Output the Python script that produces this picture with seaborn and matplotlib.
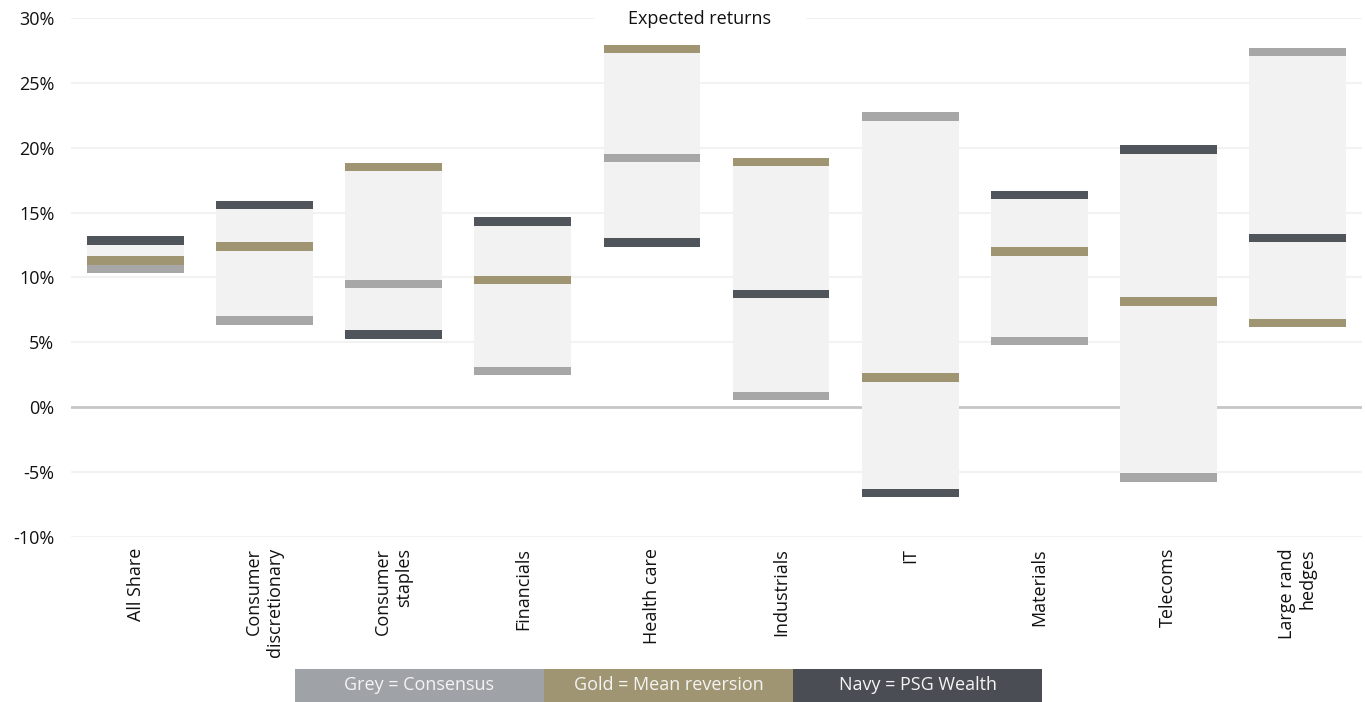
import numpy as np
import pandas as pd
import matplotlib
matplotlib.use("Agg")
import matplotlib.pyplot as plt
from matplotlib.patches import Rectangle
import seaborn as sns

# Sector expected returns (%), three estimation approaches
categories = ["All Share", "Consumer\ndiscretionary", "Consumer\nstaples", "Financials",
              "Health care", "Industrials", "IT", "Materials", "Telecoms", "Large rand\nhedges"]
consensus = [10.7, 6.7, 9.5, 2.8, 19.2, 0.85, 22.4, 5.1, -5.4, 27.4]
mean_reversion = [11.3, 12.4, 18.5, 9.8, 27.6, 18.9, 2.3, 12.0, 8.15, 6.5]
psg_wealth = [12.85, 15.6, 5.6, 14.3, 12.7, 8.75, -6.6, 16.35, 19.85, 13.05]

y_ticks = [-10, -5, 0, 5, 10, 15, 20, 25, 30]
legend_labels = ["Grey = Consensus", "Gold = Mean reversion", "Navy = PSG Wealth"]

GREY = "#a7a7a7"
GOLD = "#a09572"
NAVY = "#50545b"
RANGE_FILL = "#f2f2f2"
LEGEND_COLORS = ["#9fa2a6", "#a09572", "#4a4d54"]

sns.set_theme(style="white")
plt.rcParams["font.family"] = ["Open Sans", "DejaVu Sans"]

fig = plt.figure(figsize=(13.65, 7.02), dpi=100)
ax = fig.add_axes([71 / 1365, 1 - 537 / 702, (1362 - 71) / 1365, (537 - 18) / 702])

series = np.array([consensus, mean_reversion, psg_wealth])
thick = 0.65   # marker band thickness, in % points
bar_w = 0.75

# light range band spanning all three estimates
lo = series.min(axis=0) - thick / 2
hi = series.max(axis=0) + thick / 2
sns.barplot(x=categories, y=hi - lo, bottom=lo, color=RANGE_FILL, width=bar_w,
            saturation=1, errorbar=None, ax=ax, zorder=2, linewidth=0)

# thick horizontal markers for each estimate
for vals, col in [(consensus, GREY), (mean_reversion, GOLD), (psg_wealth, NAVY)]:
    vals = np.asarray(vals)
    sns.barplot(x=categories, y=np.full(len(vals), thick), bottom=vals - thick / 2,
                color=col, width=bar_w, saturation=1, errorbar=None, ax=ax,
                zorder=3, linewidth=0)

ax.set_ylim(-10, 30)
ax.set_xlim(-0.5, len(categories) - 0.5)
ax.set_yticks(y_ticks)
ax.set_yticklabels([f"{t}%" for t in y_ticks], fontsize=13, color="#111111")
for t in y_ticks:
    if t == 0:
        ax.axhline(t, color="#c6c6c6", lw=2.0, zorder=1)
    else:
        ax.axhline(t, color="#f2f2f2", lw=1.5, zorder=1)
ax.tick_params(axis="y", length=0, pad=12)
ax.tick_params(axis="x", length=0, pad=8)
ax.set_xticks(range(len(categories)))
ax.set_xticklabels(categories, rotation=90, fontsize=13, color="#111111",
                   va="top", ha="center", multialignment="right")
ax.set_xlabel("")
ax.set_ylabel("")
for s in ax.spines.values():
    s.set_visible(False)
ax.grid(False)

ax.text(0.487, 0.998, "Expected returns", transform=ax.transAxes, ha="center", va="center",
        fontsize=13, color="#111111", zorder=5,
        bbox=dict(boxstyle="square,pad=0.35", facecolor="white", edgecolor="none"))
# widen white gap around the title on the top gridline
ax.add_patch(Rectangle((0.406, 0.985), 0.163, 0.03, transform=ax.transAxes,
                       facecolor="white", edgecolor="none", zorder=4, clip_on=False))

# colour key boxes along the bottom
x0, box_w = 295 / 1365, 249 / 1365
y0, box_h = 0.0, 33 / 702
for i, (lab, col) in enumerate(zip(legend_labels, LEGEND_COLORS)):
    fig.patches.append(Rectangle((x0 + i * box_w, y0), box_w, box_h, transform=fig.transFigure,
                                 facecolor=col, edgecolor="none"))
    fig.text(x0 + (i + 0.5) * box_w, y0 + box_h / 2, lab, ha="center", va="center",
             fontsize=13, color="#f4f4f4")

fig.savefig("out.png", dpi=100)
